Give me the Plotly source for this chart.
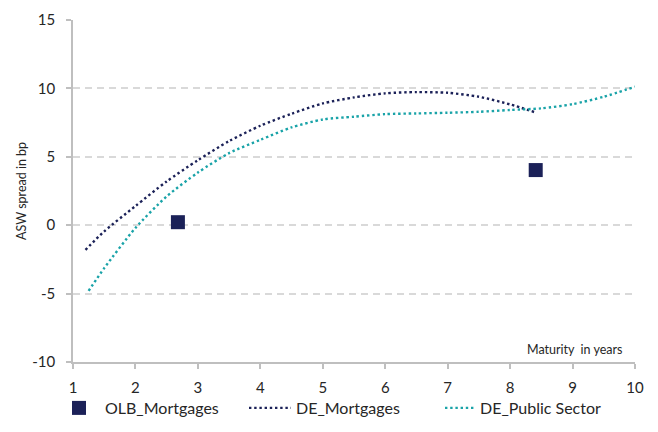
import plotly.graph_objects as go

# OLB mortgage covered bonds (single issues)
olb_maturity = [2.68, 8.41]
olb_spread = [0.22, 4.03]

# DE mortgage Pfandbrief curve
de_mtg_maturity = [1.2, 1.5, 2.0, 2.5, 3.0, 3.5, 4.0, 4.5, 5.0, 5.5, 6.0, 6.5, 7.0, 7.5, 8.0, 8.4]
de_mtg_spread = [-1.8, -0.45, 1.4, 3.2, 4.75, 6.15, 7.27, 8.15, 8.9, 9.34, 9.64, 9.73, 9.68, 9.39, 8.83, 8.25]

# DE public sector Pfandbrief curve
de_pub_maturity = [1.25, 1.5, 2.0, 2.5, 3.0, 3.5, 4.0, 4.5, 5.0, 5.5, 6.0, 6.5, 7.0, 7.5, 8.0, 8.5, 9.0, 9.5, 10.0]
de_pub_spread = [-4.8, -3.14, -0.2, 2.1, 3.85, 5.27, 6.24, 7.15, 7.73, 7.93, 8.12, 8.17, 8.22, 8.29, 8.42, 8.54, 8.85, 9.39, 10.12]

x_ticks = [1, 2, 3, 4, 5, 6, 7, 8, 9, 10]
y_ticks = [-10, -5, 0, 5, 10, 15]

NAVY = "#1b2158"
TEAL = "#19a3a8"
AXIS = "#bfbfbf"
GRID = "#d9d9d9"
TXT = "#262626"
FONT = "Lato"

fig = go.Figure()

fig.add_trace(go.Scatter(
    x=olb_maturity, y=olb_spread, mode="markers", name="OLB_Mortgages",
    marker=dict(symbol="square", size=14, color=NAVY, line=dict(width=0)),
    legend="legend",
))
fig.add_trace(go.Scatter(
    x=de_mtg_maturity, y=de_mtg_spread, mode="lines", name="DE_Mortgages",
    line=dict(color=NAVY, width=2.4, dash="2.4px,2.8px", shape="spline", smoothing=0.7),
    legend="legend2",
))
fig.add_trace(go.Scatter(
    x=de_pub_maturity, y=de_pub_spread, mode="lines", name="DE_Public Sector",
    line=dict(color=TEAL, width=2.4, dash="2.4px,2.8px", shape="spline", smoothing=0.7),
    legend="legend3",
))

L, R, T, B = 73, 23, 20, 70
W, H = 658, 432
pw, ph = W - L - R, H - T - B


def px_x(p):
    return (p - L) / pw


def px_y(p):
    return (H - B - p) / ph


legend_common = dict(
    orientation="h", yanchor="middle", xanchor="left",
    font=dict(family=FONT, size=16, color=TXT),
    bgcolor="rgba(0,0,0,0)", borderwidth=0,
)

fig.update_layout(
    width=W, height=H,
    margin=dict(l=L, r=R, t=T, b=B, autoexpand=False),
    paper_bgcolor="white", plot_bgcolor="white",
    font=dict(family=FONT, color=TXT),
    showlegend=True,
    legend=dict(legend_common, x=px_x(53), y=px_y(408), itemwidth=42),
    legend2=dict(legend_common, x=px_x(244), y=px_y(408), itemwidth=42),
    legend3=dict(legend_common, x=px_x(440), y=px_y(408), itemwidth=30),
    xaxis=dict(
        range=[1, 10], tickvals=x_ticks, ticktext=[str(v) for v in x_ticks],
        showgrid=False, zeroline=False,
        showline=True, linecolor=AXIS, linewidth=1.5,
        ticks="outside", ticklen=5, tickcolor=AXIS, tickwidth=1.5,
        tickfont=dict(family=FONT, size=15, color=TXT),
        ticklabelstandoff=6,
    ),
    yaxis=dict(
        range=[-10, 15], tickvals=y_ticks, ticktext=[str(v) for v in y_ticks],
        showgrid=True, gridcolor=GRID, gridwidth=1.5, griddash="7px,5px",
        zeroline=False,
        showline=True, linecolor=AXIS, linewidth=1.5,
        ticks="outside", ticklen=5, tickcolor=AXIS, tickwidth=1.5,
        tickfont=dict(family=FONT, size=15, color=TXT),
        ticklabelstandoff=8,
    ),
    annotations=[
        dict(text="ASW spread in bp", textangle=-90, showarrow=False,
             xref="paper", yref="paper", x=px_x(21), y=0.5,
             xanchor="center", yanchor="middle",
             font=dict(family=FONT, size=12.5, color=TXT)),
        dict(text="Maturity  in years", showarrow=False,
             xref="paper", yref="paper", x=px_x(624), y=px_y(349),
             xanchor="right", yanchor="middle",
             font=dict(family=FONT, size=12.5, color=TXT)),
    ],
)

fig.write_html("out.html")
